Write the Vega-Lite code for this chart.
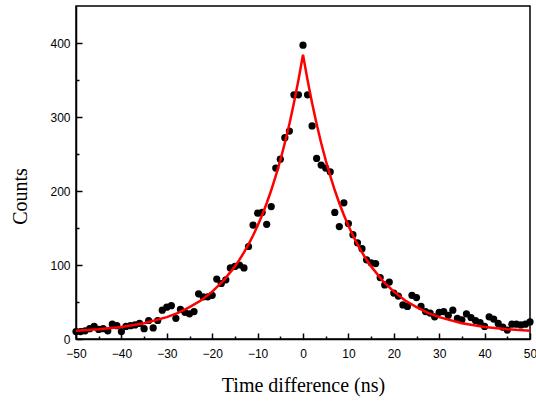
{
  "$schema": "https://vega.github.io/schema/vega-lite/v6.json",
  "autosize": "none",
  "width": 454,
  "height": 333,
  "padding": {"left": 76, "top": 6, "right": 6, "bottom": 66},
  "background": "white",
  "config": {
    "view": {"stroke": "black", "strokeWidth": 1.5},
    "axis": {
      "grid": false,
      "domainColor": "black",
      "domainWidth": 1.5,
      "tickColor": "black",
      "tickWidth": 1.5,
      "labelFont": "Liberation Sans",
      "labelFontSize": 12,
      "labelColor": "black",
      "titleFont": "Liberation Serif",
      "titleFontSize": 20,
      "titleFontWeight": "normal",
      "titleColor": "black"
    }
  },
  "datasets": {
    "pts": [
      {"t": -50, "c": 10}, {"t": -49, "c": 10}, {"t": -48, "c": 11}, {"t": -47, "c": 14}, {"t": -46, "c": 17},
      {"t": -45, "c": 13}, {"t": -44, "c": 14}, {"t": -43, "c": 11}, {"t": -42, "c": 20}, {"t": -41, "c": 18},
      {"t": -40, "c": 10}, {"t": -39, "c": 17}, {"t": -38, "c": 18}, {"t": -37, "c": 19}, {"t": -36, "c": 21},
      {"t": -35, "c": 14}, {"t": -34, "c": 25}, {"t": -33, "c": 15}, {"t": -32, "c": 25}, {"t": -31, "c": 39},
      {"t": -30, "c": 43}, {"t": -29, "c": 45}, {"t": -28, "c": 28}, {"t": -27, "c": 40}, {"t": -26, "c": 36},
      {"t": -25, "c": 34}, {"t": -24, "c": 37}, {"t": -23, "c": 61}, {"t": -22, "c": 57}, {"t": -21, "c": 57},
      {"t": -20, "c": 59}, {"t": -19, "c": 81}, {"t": -18, "c": 75}, {"t": -17, "c": 80}, {"t": -16, "c": 96},
      {"t": -15, "c": 98}, {"t": -14, "c": 100}, {"t": -13, "c": 96}, {"t": -12, "c": 125}, {"t": -11, "c": 154},
      {"t": -10, "c": 170}, {"t": -9, "c": 171}, {"t": -8, "c": 155}, {"t": -7, "c": 179}, {"t": -6, "c": 231},
      {"t": -5, "c": 243}, {"t": -4, "c": 272}, {"t": -3, "c": 281}, {"t": -2, "c": 330}, {"t": -1, "c": 330},
      {"t": 0, "c": 397}, {"t": 1, "c": 330}, {"t": 2, "c": 288}, {"t": 3, "c": 244}, {"t": 4, "c": 235},
      {"t": 5, "c": 231}, {"t": 6, "c": 226}, {"t": 7, "c": 171}, {"t": 8, "c": 152}, {"t": 9, "c": 184},
      {"t": 10, "c": 156}, {"t": 11, "c": 141}, {"t": 12, "c": 130}, {"t": 13, "c": 122}, {"t": 14, "c": 107},
      {"t": 15, "c": 103}, {"t": 16, "c": 102}, {"t": 17, "c": 83}, {"t": 18, "c": 73}, {"t": 19, "c": 77},
      {"t": 20, "c": 62}, {"t": 21, "c": 58}, {"t": 22, "c": 46}, {"t": 23, "c": 44}, {"t": 24, "c": 59},
      {"t": 25, "c": 56}, {"t": 26, "c": 44}, {"t": 27, "c": 37}, {"t": 28, "c": 35}, {"t": 29, "c": 30},
      {"t": 30, "c": 36}, {"t": 31, "c": 37}, {"t": 32, "c": 32}, {"t": 33, "c": 39}, {"t": 34, "c": 28},
      {"t": 35, "c": 26}, {"t": 36, "c": 34}, {"t": 37, "c": 29}, {"t": 38, "c": 25}, {"t": 39, "c": 22},
      {"t": 40, "c": 17}, {"t": 41, "c": 30}, {"t": 42, "c": 27}, {"t": 43, "c": 21}, {"t": 44, "c": 16},
      {"t": 45, "c": 12}, {"t": 46, "c": 20}, {"t": 47, "c": 20}, {"t": 48, "c": 19}, {"t": 49, "c": 20},
      {"t": 50, "c": 23}
    ],
    "fit": [
      {"t": -50, "c": 11.2}, {"t": -45, "c": 13.2}, {"t": -40, "c": 16.3}, {"t": -35, "c": 21.4}, {"t": -30, "c": 29.6},
      {"t": -27.5, "c": 35.4}, {"t": -25, "c": 43}, {"t": -22.5, "c": 52}, {"t": -20, "c": 64}, {"t": -17.5, "c": 79},
      {"t": -15, "c": 98.1}, {"t": -14, "c": 107.1}, {"t": -13, "c": 117}, {"t": -12, "c": 127.9}, {"t": -11, "c": 139.9},
      {"t": -10, "c": 153.1}, {"t": -9, "c": 167.6}, {"t": -8, "c": 183.5}, {"t": -7, "c": 201}, {"t": -6, "c": 220.3},
      {"t": -5, "c": 241.5}, {"t": -4, "c": 264.9}, {"t": -3, "c": 290.6}, {"t": -2, "c": 318.8}, {"t": -1, "c": 349.9},
      {"t": 0, "c": 384},
      {"t": 1, "c": 349.9}, {"t": 2, "c": 318.8}, {"t": 3, "c": 290.6}, {"t": 4, "c": 264.9}, {"t": 5, "c": 241.5},
      {"t": 6, "c": 220.3}, {"t": 7, "c": 201}, {"t": 8, "c": 183.5}, {"t": 9, "c": 167.6}, {"t": 10, "c": 153.1},
      {"t": 11, "c": 139.9}, {"t": 12, "c": 127.9}, {"t": 13, "c": 117}, {"t": 14, "c": 107.1}, {"t": 15, "c": 98.1},
      {"t": 17.5, "c": 79}, {"t": 20, "c": 64}, {"t": 22.5, "c": 52}, {"t": 25, "c": 43}, {"t": 27.5, "c": 35.4},
      {"t": 30, "c": 29.6}, {"t": 35, "c": 21.4}, {"t": 40, "c": 16.3}, {"t": 45, "c": 13.2}, {"t": 50, "c": 11.2}
    ]
  },
  "layer": [
    {
      "data": {"name": "pts"},
      "mark": {"type": "circle", "size": 52, "color": "black", "opacity": 1, "clip": false},
      "encoding": {
        "x": {
          "field": "t", "type": "quantitative",
          "scale": {"domain": [-50, 50], "nice": false},
          "axis": {
            "orient": "bottom",
            "values": [-50, -40, -30, -20, -10, 0, 10, 20, 30, 40, 50],
            "tickSize": -6,
            "labelPadding": 15,
            "labelFlush": false,
            "labelOverlap": false,
            "title": "Time difference (ns)",
            "titlePadding": 16
          }
        },
        "y": {
          "field": "c", "type": "quantitative",
          "scale": {"domain": [0, 450], "nice": false},
          "axis": {
            "orient": "left",
            "values": [0, 100, 200, 300, 400],
            "tickSize": -6,
            "labelPadding": 12,
            "labelFlush": false,
            "labelOverlap": false,
            "title": "Counts",
            "titlePadding": 19,
            "titleY": 190
          }
        }
      }
    },
    {
      "data": {"name": "fit"},
      "mark": {"type": "line", "color": "#ff0000", "strokeWidth": 2.5, "clip": true},
      "encoding": {
        "x": {
          "field": "t", "type": "quantitative",
          "axis": {
            "orient": "bottom",
            "values": [-45, -35, -25, -15, -5, 5, 15, 25, 35, 45],
            "tickSize": -3,
            "labels": false,
            "domain": false,
            "title": null
          }
        },
        "y": {
          "field": "c", "type": "quantitative",
          "axis": {
            "orient": "left",
            "values": [50, 150, 250, 350],
            "tickSize": -3,
            "labels": false,
            "domain": false,
            "title": null
          }
        }
      }
    }
  ],
  "resolve": {"axis": {"x": "independent", "y": "independent"}}
}
